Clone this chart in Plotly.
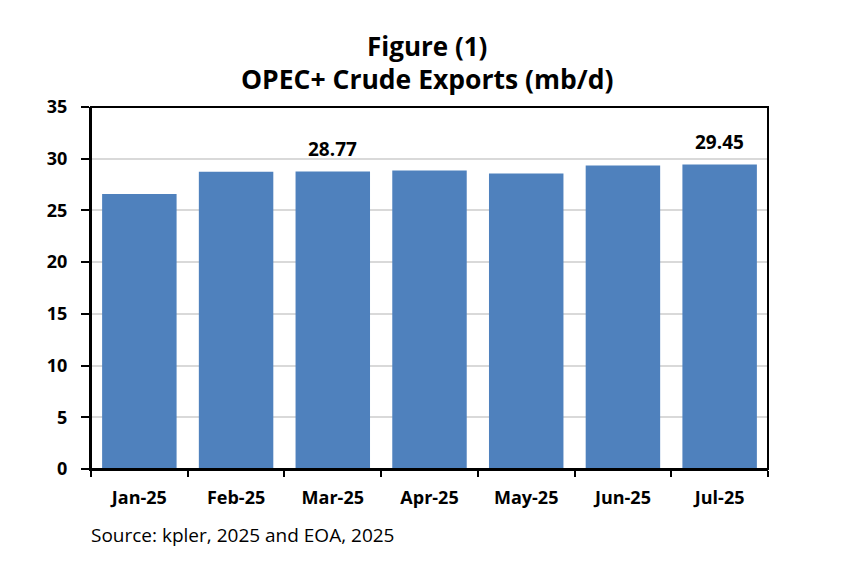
import plotly.graph_objects as go

# Exportations de brut OPEP+ (mb/j)
months = ['Jan-25', 'Feb-25', 'Mar-25', 'Apr-25', 'May-25', 'Jun-25', 'Jul-25']
exports = [26.6, 28.75, 28.77, 28.85, 28.56, 29.34, 29.45]
labels = ['', '', '28.77', '', '', '', '29.45']

y_ticks = [0, 5, 10, 15, 20, 25, 30, 35]

FONT = 'Open Sans'

fig = go.Figure()

fig.add_trace(go.Bar(
    x=months, y=exports,
    marker=dict(color='#4F81BD', line=dict(width=0)),
))

# etiquettes de donnees (seulement Mar et Jul)
for m, v, lab in zip(months, exports, labels):
    if lab:
        fig.add_annotation(x=m, y=v, text=lab, showarrow=False,
                           yanchor='bottom', yshift=7,
                           font=dict(family=FONT, size=19, color='black', weight='bold'))

# titre sur deux lignes
fig.add_annotation(text='Figure (1)', xref='paper', yref='paper', x=0.497, y=1.168,
                   xanchor='center', yanchor='middle', showarrow=False,
                   font=dict(family=FONT, size=26, color='black', weight='bold'))
fig.add_annotation(text='OPEC+ Crude Exports (mb/d)', xref='paper', yref='paper',
                   x=0.497, y=1.078, xanchor='center', yanchor='middle', showarrow=False,
                   font=dict(family=FONT, size=26.5, color='black', weight='bold'))

fig.update_layout(
    width=848, height=577,
    paper_bgcolor='white', plot_bgcolor='white',
    margin=dict(l=83, r=88, t=99, b=116),
    bargap=0.23,
    showlegend=False,
    font=dict(family=FONT, color='black'),
)

fig.update_xaxes(
    type='category', tickson='boundaries',
    ticks='outside', ticklen=6, tickwidth=1.5, tickcolor='black',
    showline=True, linecolor='black', linewidth=2,
    showgrid=False, ticklabelstandoff=11,
    tickfont=dict(family=FONT, size=18, color='black', weight='bold'),
)

fig.update_yaxes(
    range=[0, 35], tickvals=y_ticks,
    ticks='outside', ticklen=8, tickwidth=1.5, tickcolor='black',
    showline=True, linecolor='black', linewidth=2,
    showgrid=True, gridcolor='#D9D9D9', gridwidth=1.5,
    ticklabelstandoff=10,
    tickfont=dict(family=FONT, size=18, color='black', weight='bold'),
    zeroline=False,
)

# cadre en haut et a droite
fig.add_shape(type='rect', xref='paper', yref='paper', x0=0, x1=1, y0=0, y1=1,
              line=dict(color='black', width=2), layer='above')

fig.add_annotation(
    text='Source: kpler, 2025 and EOA, 2025',
    xref='paper', yref='paper', x=-0.003, y=-0.182,
    xanchor='left', yanchor='middle', showarrow=False,
    font=dict(family=FONT, size=19, color='black'),
)

fig.write_html("out.html")
